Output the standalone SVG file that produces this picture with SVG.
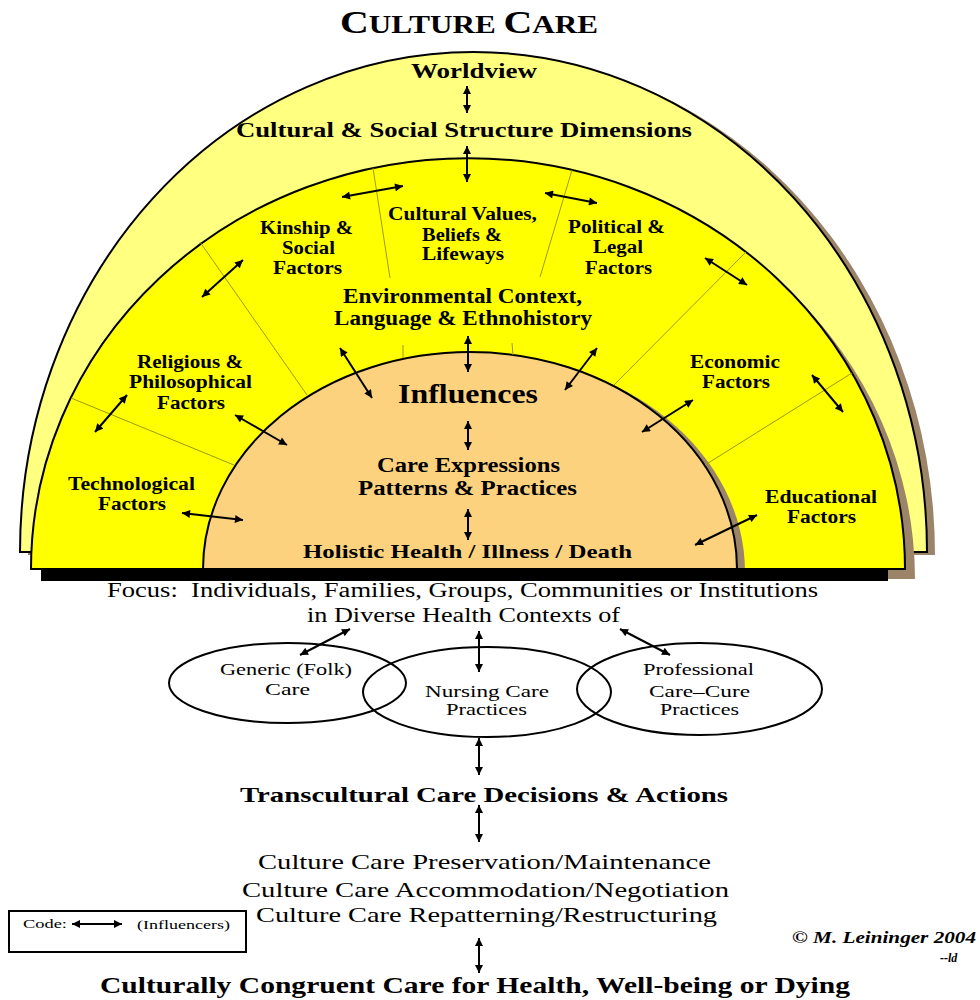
<svg xmlns="http://www.w3.org/2000/svg" width="980" height="1000" viewBox="0 0 980 1000">
<style>
.b{font-family:"Liberation Serif",serif;font-weight:bold;text-anchor:middle;fill:#000}
.r{font-family:"Liberation Serif",serif;text-anchor:middle;fill:#000}
.arr{stroke:#000;stroke-width:2;fill:none;marker-start:url(#ah);marker-end:url(#ah)}
.div{stroke:#9a9a10;stroke-width:1;fill:none}
.sh{fill:#9c8468}
.ol{stroke:#000;stroke-width:2}
.ell{fill:none;stroke:#000;stroke-width:2}
</style>
<defs>
<marker id="ah" viewBox="0 0 10 10" refX="10" refY="5" markerWidth="9" markerHeight="8" markerUnits="userSpaceOnUse" orient="auto-start-reverse">
<path d="M0,0 L10,5 L0,10 z" fill="#000"/>
</marker>
<path id="outerShape" d="M20,552 A453.5,500 0 0 1 927,552 Z"/>
<path id="midShape" d="M31,569 A437,411 0 0 1 905,569 Z"/>
<path id="innerShape" d="M203,569 A267,217 0 0 1 737,569 Z"/>
</defs>
<rect width="980" height="1000" fill="#fff"/>

<text class="b" x="469" y="33" textLength="258" lengthAdjust="spacingAndGlyphs"><tspan font-size="32">C</tspan><tspan font-size="25">ULTURE </tspan><tspan font-size="32">C</tspan><tspan font-size="25">ARE</tspan></text>

<g id="outer">
<use href="#outerShape" class="sh" transform="translate(8,3)"/>
<use href="#outerShape" fill="#ffff80" class="ol"/>
<text class="b" x="474" y="78" font-size="20" textLength="126" lengthAdjust="spacingAndGlyphs">Worldview</text>
<text class="b" x="464" y="137" font-size="20" textLength="456" lengthAdjust="spacingAndGlyphs">Cultural &amp; Social Structure Dimensions</text>
</g>

<g id="middle">
<use href="#midShape" class="sh" transform="translate(10,10)"/>
<use href="#midShape" fill="#ffff00" class="ol"/>
</g>

<g id="inner">
<use href="#innerShape" class="sh" transform="translate(8,3)"/>
<use href="#innerShape" fill="#fcd27f" class="ol"/>
</g>
<rect x="41" y="568" width="847" height="13" fill="#000"/>

<g id="dividers">
<line class="div" x1="200" y1="242" x2="307" y2="395"/>
<line class="div" x1="71" y1="398" x2="234" y2="465"/>
<line class="div" x1="373" y1="168" x2="390" y2="278"/>
<line class="div" x1="572" y1="170" x2="540" y2="277"/>
<line class="div" x1="403" y1="345" x2="403" y2="358"/>
<line class="div" x1="512" y1="343" x2="513" y2="355"/>
<line class="div" x1="746" y1="252" x2="614" y2="385"/>
<line class="div" x1="852" y1="373" x2="705" y2="465"/>
</g>

<g id="kinship"><text class="b" font-size="18"><tspan x="306.5" y="234" textLength="93" lengthAdjust="spacingAndGlyphs">Kinship &amp;</tspan><tspan x="308.5" y="254" textLength="53" lengthAdjust="spacingAndGlyphs">Social</tspan><tspan x="307.5" y="274" textLength="69" lengthAdjust="spacingAndGlyphs">Factors</tspan></text></g>
<g id="values"><text class="b" font-size="18"><tspan x="462.5" y="220" textLength="149" lengthAdjust="spacingAndGlyphs">Cultural Values,</tspan><tspan x="462" y="241" textLength="80" lengthAdjust="spacingAndGlyphs">Beliefs &amp;</tspan><tspan x="463" y="260" textLength="82" lengthAdjust="spacingAndGlyphs">Lifeways</tspan></text></g>
<g id="political"><text class="b" font-size="18"><tspan x="616.5" y="233" textLength="97" lengthAdjust="spacingAndGlyphs">Political &amp;</tspan><tspan x="618" y="253" textLength="50" lengthAdjust="spacingAndGlyphs">Legal</tspan><tspan x="618.5" y="274" textLength="67" lengthAdjust="spacingAndGlyphs">Factors</tspan></text></g>
<g id="environment"><text class="b" font-size="20"><tspan x="462.5" y="303" textLength="239" lengthAdjust="spacingAndGlyphs">Environmental Context,</tspan><tspan x="463" y="325" textLength="258" lengthAdjust="spacingAndGlyphs">Language &amp; Ethnohistory</tspan></text></g>
<g id="religious"><text class="b" font-size="18"><tspan x="190" y="368" textLength="106" lengthAdjust="spacingAndGlyphs">Religious &amp;</tspan><tspan x="190.5" y="388" textLength="123" lengthAdjust="spacingAndGlyphs">Philosophical</tspan><tspan x="191" y="409" textLength="68" lengthAdjust="spacingAndGlyphs">Factors</tspan></text></g>
<g id="technological"><text class="b" font-size="18"><tspan x="131.5" y="490" textLength="127" lengthAdjust="spacingAndGlyphs">Technological</tspan><tspan x="132" y="510" textLength="68" lengthAdjust="spacingAndGlyphs">Factors</tspan></text></g>
<g id="economic"><text class="b" font-size="18"><tspan x="735" y="368" textLength="90" lengthAdjust="spacingAndGlyphs">Economic</tspan><tspan x="736" y="388" textLength="68" lengthAdjust="spacingAndGlyphs">Factors</tspan></text></g>
<g id="educational"><text class="b" font-size="18"><tspan x="821" y="503" textLength="112" lengthAdjust="spacingAndGlyphs">Educational</tspan><tspan x="821.5" y="523" textLength="69" lengthAdjust="spacingAndGlyphs">Factors</tspan></text></g>

<g id="influences"><text class="b" x="468" y="403" font-size="28" textLength="140" lengthAdjust="spacingAndGlyphs">Influences</text></g>
<g id="careExpressions"><text class="b" font-size="20"><tspan x="468.5" y="472" textLength="183" lengthAdjust="spacingAndGlyphs">Care Expressions</tspan><tspan x="467.5" y="495" textLength="219" lengthAdjust="spacingAndGlyphs">Patterns &amp; Practices</tspan></text></g>
<g id="holistic"><text class="b" x="467.5" y="558" font-size="19" textLength="329" lengthAdjust="spacingAndGlyphs">Holistic Health / Illness / Death</text></g>

<g id="focus"><text class="r" font-size="20" xml:space="preserve"><tspan x="462.5" y="597" textLength="711" lengthAdjust="spacingAndGlyphs">Focus:  Individuals, Families, Groups, Communities or Institutions</tspan><tspan x="463.5" y="622" textLength="313" lengthAdjust="spacingAndGlyphs">in Diverse Health Contexts of</tspan></text></g>

<g id="generic">
<ellipse class="ell" cx="287.5" cy="683" rx="118.5" ry="40"/>
<text class="r" font-size="17"><tspan x="286" y="675" textLength="132" lengthAdjust="spacingAndGlyphs">Generic (Folk)</tspan><tspan x="287.5" y="695" textLength="45" lengthAdjust="spacingAndGlyphs">Care</tspan></text>
</g>
<g id="nursing">
<ellipse class="ell" cx="487" cy="692" rx="124" ry="45"/>
<text class="r" font-size="17"><tspan x="487" y="697" textLength="124" lengthAdjust="spacingAndGlyphs">Nursing Care</tspan><tspan x="486.5" y="715" textLength="81" lengthAdjust="spacingAndGlyphs">Practices</tspan></text>
</g>
<g id="professional">
<ellipse class="ell" cx="699.5" cy="689" rx="122.5" ry="46"/>
<text class="r" font-size="17"><tspan x="698.5" y="675" textLength="111" lengthAdjust="spacingAndGlyphs">Professional</tspan><tspan x="699.5" y="697" textLength="101" lengthAdjust="spacingAndGlyphs">Care–Cure</tspan><tspan x="699.5" y="715" textLength="79" lengthAdjust="spacingAndGlyphs">Practices</tspan></text>
</g>

<g id="decisions"><text class="b" x="484" y="802" font-size="22" textLength="488" lengthAdjust="spacingAndGlyphs">Transcultural Care Decisions &amp; Actions</text></g>
<g id="modes"><text class="r" font-size="22"><tspan x="484.5" y="869" textLength="453" lengthAdjust="spacingAndGlyphs">Culture Care Preservation/Maintenance</tspan><tspan x="485.5" y="897" textLength="487" lengthAdjust="spacingAndGlyphs">Culture Care Accommodation/Negotiation</tspan><tspan x="486.5" y="922" textLength="461" lengthAdjust="spacingAndGlyphs">Culture Care Repatterning/Restructuring</tspan></text></g>
<g id="congruent"><text class="b" x="475" y="993" font-size="23" textLength="750" lengthAdjust="spacingAndGlyphs">Culturally Congruent Care for Health, Well-being or Dying</text></g>

<g id="code">
<rect x="9" y="911" width="237" height="41" fill="none" stroke="#000" stroke-width="2"/>
<text x="23" y="928" font-family="Liberation Serif, serif" font-size="12" textLength="44" lengthAdjust="spacingAndGlyphs">Code:</text>
<line class="arr" x1="72" y1="924" x2="122" y2="924"/>
<text x="137" y="929" font-family="Liberation Serif, serif" font-size="12" textLength="93" lengthAdjust="spacingAndGlyphs">(Influencers)</text>
</g>
<g id="copyright">
<text x="792" y="943" font-family="Liberation Serif, serif" font-size="16" font-style="italic" font-weight="bold" textLength="184" lengthAdjust="spacingAndGlyphs">© M. Leininger 2004</text>
<text x="940" y="962" font-family="Liberation Serif, serif" font-size="12" font-style="italic" font-weight="bold">--ld</text>
</g>

<g id="connectors">
<line class="arr" x1="467" y1="86" x2="467" y2="113"/>
<line class="arr" x1="467" y1="146" x2="467" y2="182"/>
<line class="arr" x1="342" y1="197" x2="403" y2="186"/>
<line class="arr" x1="545" y1="193" x2="597" y2="203"/>
<line class="arr" x1="202" y1="297" x2="243" y2="260"/>
<line class="arr" x1="95" y1="432" x2="127" y2="395"/>
<line class="arr" x1="235" y1="415" x2="287" y2="445"/>
<line class="arr" x1="340" y1="348" x2="372" y2="398"/>
<line class="arr" x1="182" y1="513" x2="243" y2="520"/>
<line class="arr" x1="468" y1="336" x2="468" y2="372"/>
<line class="arr" x1="597" y1="348" x2="565" y2="390"/>
<line class="arr" x1="705" y1="258" x2="747" y2="285"/>
<line class="arr" x1="693" y1="400" x2="642" y2="432"/>
<line class="arr" x1="812" y1="375" x2="843" y2="412"/>
<line class="arr" x1="757" y1="515" x2="695" y2="545"/>
<line class="arr" x1="468" y1="421" x2="468" y2="450"/>
<line class="arr" x1="468" y1="509" x2="468" y2="540"/>
<line class="arr" x1="350" y1="629" x2="300" y2="655"/>
<line class="arr" x1="479" y1="631" x2="479" y2="672"/>
<line class="arr" x1="620" y1="629" x2="670" y2="655"/>
<line class="arr" x1="479" y1="738" x2="479" y2="775"/>
<line class="arr" x1="479" y1="805" x2="479" y2="842"/>
<line class="arr" x1="479" y1="938" x2="479" y2="973"/>
</g>
</svg>
